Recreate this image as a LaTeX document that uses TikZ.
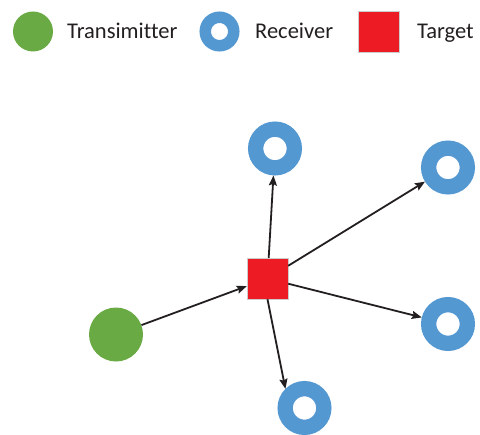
\documentclass[tikz,border=0pt]{standalone}
\usepackage{fontspec}
\setmainfont{Carlito}[Ligatures={NoCommon}, Contextuals={NoAlternate}]
\usetikzlibrary{arrows.meta}
\definecolor{txgreen}{HTML}{6AAA45}
\definecolor{rxblue}{HTML}{5498D2}
\definecolor{tgred}{HTML}{ED1C24}
\definecolor{arrowc}{HTML}{231F20}
\definecolor{txtc}{HTML}{231F20}
\tikzset{
  tx/.style={circle, fill=txgreen, inner sep=0pt, minimum size=#1},
  rx/.style={circle, draw=rxblue, fill=white, inner sep=0pt},
  rxbig/.style={rx, line width=15.3bp, minimum size=38.7bp},
  rxsmall/.style={rx, line width=11.5bp, minimum size=28.5bp},
  tg/.style={rectangle, fill=tgred, draw=black!20, line width=0.4bp, inner sep=0pt, minimum size=#1},
  lbl/.style={anchor=base west, inner sep=0pt, text=txtc, font=\fontsize{22.5bp}{27bp}\selectfont},
  link/.style={draw=arrowc, line width=1.8bp, -{Stealth[length=10bp,width=8bp,inset=1.5bp]}}
}
\begin{document}
\begin{tikzpicture}[x=1bp,y=-1bp]
\useasboundingbox (0,0) rectangle (480,435);
% legend
\node[tx=40bp] (ltx) at (33,31.5) {};
\node[lbl] (ltxt) at (67,39) {Transimitter};
\node[rxsmall] (lrx) at (219.5,31.5) {};
\node[lbl] (lrxt) at (255,39) {Receiver};
\node[tg=41bp] (ltg) at (378.5,31.5) {};
\node[lbl] (ltgt) at (417,39) {Target};
% main
\node[tg=41bp] (sq) at (267.5,278.5) {};
\node[tx=54bp] (t) at (116,334.5) {};
\node[rxbig] (r1) at (275,148.5) {};
\node[rxbig] (r2) at (448,167.5) {};
\node[rxbig] (r3) at (448,324) {};
\node[rxbig] (r4) at (304.5,408) {};
\draw[link] (t) -- (sq);
\draw[link] (sq) -- (r1);
\draw[link] (sq) -- (r2);
\draw[link] (sq) -- (r3);
\draw[link] (sq.south) -- (r4.135);
\end{tikzpicture}
\end{document}
